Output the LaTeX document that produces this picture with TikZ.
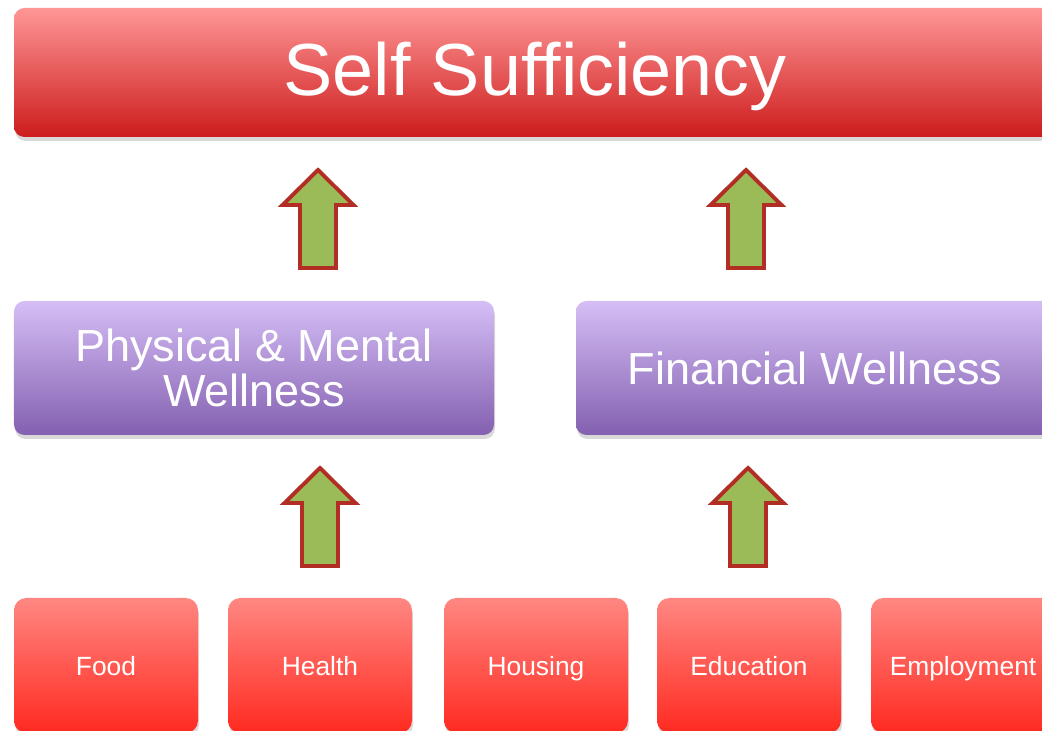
\documentclass[tikz,border=0pt]{standalone}
\usepackage{fontspec}
\setmainfont{Liberation Sans}
\usetikzlibrary{shadows}
\definecolor{redtop}{RGB}{255,150,150}
\definecolor{redmid}{RGB}{242,110,110}
\definecolor{redbot}{RGB}{205,28,28}
\definecolor{boxtop}{RGB}{255,135,130}
\definecolor{boxmid}{RGB}{255,95,88}
\definecolor{boxbot}{RGB}{255,42,32}
\definecolor{purtop}{RGB}{213,190,246}
\definecolor{purmid}{RGB}{184,154,226}
\definecolor{purbot}{RGB}{132,96,176}
\definecolor{arrowfill}{RGB}{155,187,89}
\definecolor{arrowline}{RGB}{178,45,35}

\begin{document}
\begin{tikzpicture}
\tikzstyle{every node}=[text=white, inner sep=0pt,
                        drop shadow={shadow xshift=0.01, shadow yshift=-0.04, opacity=0.3}]
\tikzstyle{topbox}=[rounded corners=3pt, minimum width=10.42cm, minimum height=1.29cm,
                    font=\fontsize{21}{25}\selectfont, text height=0.62cm, text depth=0.16cm,
                    top color=redtop, middle color=redmid, bottom color=redbot]
\tikzstyle{midbox}=[rounded corners=3pt, minimum height=1.34cm, align=center,
                    font=\fontsize{12.8}{12.8}\selectfont,
                    top color=purtop, middle color=purmid, bottom color=purbot]
\tikzstyle{lowbox}=[rounded corners=3.5pt, minimum width=1.84cm, minimum height=1.35cm,
                    font=\fontsize{7.5}{9}\selectfont, text height=0.25cm, text depth=0.05cm,
                    top color=boxtop, middle color=boxmid, bottom color=boxbot]
\tikzstyle{blockarrow}=[fill=arrowfill, draw=arrowline, line width=1.1pt, line join=miter]
\clip (0,0) rectangle (10.42,7.31);
\node[topbox] (SS) at (5.35,6.585) {Self Sufficiency};
\node[midbox, minimum width=4.80cm] (PM) at (2.54,3.63) {Physical \& Mental\\Wellness};
\node[midbox, minimum width=4.78cm] (FW) at (8.15,3.63) {Financial Wellness};
\foreach \name/\x/\txt in {food/1.06/Food, health/3.20/Health, housing/5.36/Housing,
                           education/7.49/Education, employment/9.63/Employment}
  \node[lowbox] (\name) at (\x,0.655) {\txt};
% block arrows between the rows
\foreach \x/\y in {3.18/4.63, 7.46/4.63, 3.20/1.65, 7.48/1.65}
  \draw[blockarrow] (\x-0.18,\y) -- (\x+0.18,\y) -- (\x+0.18,\y+0.63)
    -- (\x+0.355,\y+0.63) -- (\x,\y+0.98) -- (\x-0.355,\y+0.63)
    -- (\x-0.18,\y+0.63) -- cycle;
\end{tikzpicture}
\end{document}
